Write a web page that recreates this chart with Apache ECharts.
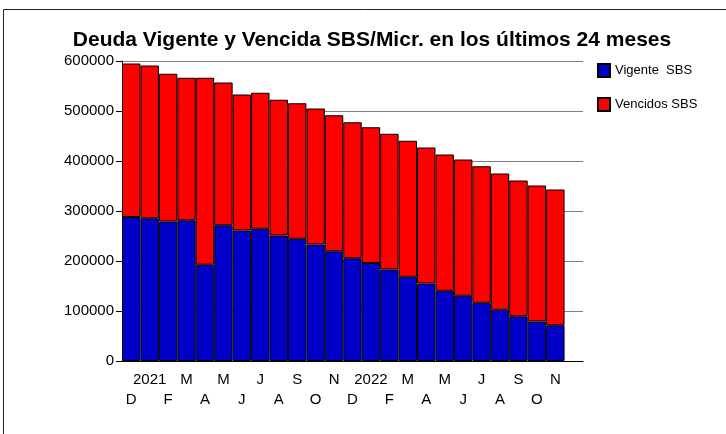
<!DOCTYPE html>
<html>
<head>
<meta charset="utf-8">
<script src="https://cdn.jsdelivr.net/npm/echarts@6/dist/echarts.min.js"></script>
<style>
html,body{margin:0;padding:0;background:#fff;}
#chart{width:726px;height:434px;}
</style>
</head>
<body>
<div id="chart"></div>
<script>
const titleText = 'Deuda Vigente y Vencida SBS/Micr. en los últimos 24 meses';
const categories = ['D','2021','F','M','A','M','J','J','A','S','O','N','D','2022','F','M','A','M','J','J','A','S','O','N'];
const vigente = [288000,285500,279000,281500,192500,271500,261000,264500,251000,244500,233000,219500,205500,196000,183000,168500,155000,140500,130500,116500,102500,89500,79000,71500];
const vencidos = [307000,305500,295500,285000,374000,285500,272000,272000,271500,271000,272000,272000,272000,271500,271500,272000,272000,272500,272500,273000,272500,271500,272000,271500];
const yTicks = [0,100000,200000,300000,400000,500000,600000];

const chart = echarts.init(document.getElementById('chart'), null, {renderer:'canvas'});
const font = 'Liberation Sans';
chart.setOption({
  animation: false,
  backgroundColor: '#fff',
  textStyle: {fontFamily: font},
  title: {
    text: titleText,
    left: 367, top: 25, textAlign: 'center',
    textStyle: {fontFamily: font, fontSize: 21, fontWeight: 'bold', color: '#000'}
  },
  legend: {
    orient: 'vertical', left: 592, top: 58,
    itemWidth: 12, itemHeight: 13, itemGap: 19,
    icon: 'rect',
    textStyle: {fontFamily: font, fontSize: 13, color: '#000'},
    data: ['Vigente  SBS', 'Vencidos SBS']
  },
  graphic: [
    {type:'line', shape:{x1:3.5,y1:9.5,x2:726,y2:9.5}, style:{stroke:'#222',lineWidth:1}},
    {type:'line', shape:{x1:3.5,y1:9.5,x2:3.5,y2:434}, style:{stroke:'#222',lineWidth:1}}
  ],
  grid: {left: 122, top: 61, width: 461, height: 300, containLabel: false},
  xAxis: {
    type: 'category',
    data: categories,
    max: categories.length,
    boundaryGap: true,
    axisLine: {lineStyle: {color: '#000', width: 1}},
    axisTick: {length: 5, lineStyle: {color: '#000'}, interval: 0},
    axisLabel: {
      interval: 0, margin: 9, color: '#000', fontFamily: font, fontSize: 15, lineHeight: 20,
      formatter: (v, i) => (i % 2 ? v : '\n' + v)
    },
    splitLine: {show: false}
  },
  yAxis: {
    type: 'value',
    min: yTicks[0], max: yTicks[yTicks.length-1], interval: 100000,
    axisLine: {show: true, lineStyle: {color: '#000'}},
    axisTick: {show: true, length: 6, lineStyle: {color: '#000'}},
    axisLabel: {color: '#000', fontFamily: font, fontSize: 15, margin: 8, formatter: v => String(v)},
    splitLine: {show: true, lineStyle: {color: '#808080', width: 1}}
  },
  series: [
    {name: 'Vigente  SBS', type: 'bar', stack: 'total', data: vigente, barCategoryGap: '0%',
     itemStyle: {color: '#0000c8', borderColor: '#000', borderWidth: 1}},
    {name: 'Vencidos SBS', type: 'bar', stack: 'total', data: vencidos, barCategoryGap: '0%',
     itemStyle: {color: '#ff0000', borderColor: '#000', borderWidth: 1}}
  ]
});
</script>
</body>
</html>
